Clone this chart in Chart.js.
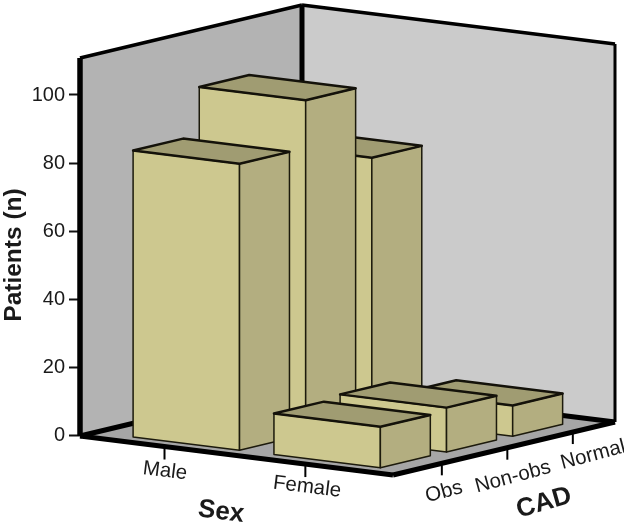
<!DOCTYPE html>
<html>
<head>
<meta charset="utf-8">
<style>
  html, body { margin: 0; padding: 0; background: #fff; }
  canvas { display: block; }
</style>
<script src="https://cdn.jsdelivr.net/npm/chart.js@4"></script>
</head>
<body>
<canvas id="chart" width="624" height="527"></canvas>
<script>
const sexLabels = ['Male', 'Female'];
const cadLabels = ['Obs', 'Non-obs', 'Normal'];
const obsValues = [84, 12];
const nonObsValues = [98, 13];
const normalValues = [76.5, 9];

// floor projection: how far one whole axis runs on screen
const sexAxis = { dx: 313, dy: 39 };
const cadAxis = { dx: 222, dy: -53 };
const sexStart = 0.12, sexStep = 0.45, boxWidth = 0.34;
const cadStart = 0.07, cadStep = 0.298, boxDepth = 0.225;
const FONT = '"Liberation Sans", Arial, sans-serif';

function floorPoint(chart, s, c) {
  const zero = chart.scales.y.getPixelForValue(0);
  return {
    x: chart.chartArea.left + s * sexAxis.dx + c * cadAxis.dx,
    y: zero + s * sexAxis.dy + c * cadAxis.dy,
  };
}

function poly(ctx, pts, fill, stroke, width) {
  ctx.beginPath();
  pts.forEach((p, i) => (i ? ctx.lineTo(p.x, p.y) : ctx.moveTo(p.x, p.y)));
  ctx.closePath();
  if (fill) { ctx.fillStyle = fill; ctx.fill(); }
  if (stroke) { ctx.strokeStyle = stroke; ctx.lineWidth = width; ctx.stroke(); }
}

function line(ctx, a, b, width) {
  ctx.beginPath();
  ctx.moveTo(a.x, a.y);
  ctx.lineTo(b.x, b.y);
  ctx.strokeStyle = '#000';
  ctx.lineWidth = width;
  ctx.stroke();
}

function up(p, h) { return { x: p.x, y: p.y - h }; }

function slantText(ctx, text, x, y, deg, font) {
  ctx.save();
  ctx.translate(x, y);
  ctx.rotate(deg * Math.PI / 180);
  ctx.font = font;
  ctx.fillStyle = '#1a1a1a';
  ctx.textAlign = 'center';
  ctx.textBaseline = 'middle';
  ctx.fillText(text, 0, 0);
  ctx.restore();
}

const box3d = {
  id: 'box3d',
  // walls and floor go under the y axis and the boxes
  beforeDatasetsDraw(chart) {
    const ctx = chart.ctx;
    const yScale = chart.scales.y;
    const wallH = yScale.getPixelForValue(0) - chart.chartArea.top;
    const left = floorPoint(chart, 0, 0);
    const front = floorPoint(chart, 1, 0);
    const right = floorPoint(chart, 1, 1);
    const back = floorPoint(chart, 0, 1);
    ctx.save();
    ctx.lineJoin = 'round';
    poly(ctx, [left, back, up(back, wallH), up(left, wallH)], '#b3b3b3');
    poly(ctx, [back, right, up(right, wallH), up(back, wallH)], '#cbcbcb');
    poly(ctx, [left, front, right, back], '#a6a6a6');
    line(ctx, left, back, 5);
    line(ctx, back, right, 5);
    line(ctx, left, up(left, wallH), 5.5);
    line(ctx, back, up(back, wallH), 5);
    line(ctx, right, up(right, wallH), 3);
    line(ctx, up(left, wallH), up(back, wallH), 3.5);
    line(ctx, up(back, wallH), up(right, wallH), 3.5);
    line(ctx, left, front, 5);
    line(ctx, front, right, 5);
    ctx.restore();
  },
  afterDatasetsDraw(chart) {
    const ctx = chart.ctx;
    const yScale = chart.scales.y;
    const zero = yScale.getPixelForValue(0);
    ctx.save();
    ctx.lineJoin = 'round';

    // far boxes first: Male row before Female, Normal before Obs
    sexLabels.forEach((_, i) => {
      for (let k = cadLabels.length - 1; k >= 0; k--) {
        const h = zero - yScale.getPixelForValue(chart.data.datasets[k].data[i]);
        const s = sexStart + i * sexStep;
        const c = cadStart + k * cadStep;
        const fl = floorPoint(chart, s, c);
        const fr = floorPoint(chart, s + boxWidth, c);
        const br = floorPoint(chart, s + boxWidth, c + boxDepth);
        const bl = floorPoint(chart, s, c + boxDepth);
        poly(ctx, [fl, fr, up(fr, h), up(fl, h)], '#cdc88f', '#1c1a0c', 1.5);
        poly(ctx, [fr, br, up(br, h), up(fr, h)], '#b3ae80', '#1c1a0c', 1.5);
        poly(ctx, [up(fl, h), up(fr, h), up(br, h), up(bl, h)], '#a09c72', '#14120a', 2.5);
      }
    });

    // slanted axes: ticks and labels sit on the floor edges
    const tickFont = '20.5px ' + FONT;
    const titleFont = 'bold 26px ' + FONT;
    const sexTickPos = [0.27, 0.72];
    const sexTextPos = [[165, 471], [307, 487]];
    sexLabels.forEach((label, i) => {
      const p = floorPoint(chart, sexTickPos[i], 0);
      line(ctx, up(p, -2), up(p, -13), 2);
      slantText(ctx, label, sexTextPos[i][0], sexTextPos[i][1], 7, tickFont);
    });
    const cadTickPos = [0.22, 0.515, 0.81];
    const cadTextPos = [[444, 492], [513, 477], [593, 455]];
    cadLabels.forEach((label, k) => {
      const p = floorPoint(chart, 1, cadTickPos[k]);
      line(ctx, up(p, -2), up(p, -12), 2);
      slantText(ctx, label, cadTextPos[k][0], cadTextPos[k][1], -15, tickFont);
    });
    slantText(ctx, 'Sex', 221, 512, 7, titleFont);
    slantText(ctx, 'CAD', 544, 503, -16, titleFont);
    ctx.restore();
  },
};

new Chart(document.getElementById('chart'), {
  type: 'bar',
  data: {
    labels: sexLabels,
    datasets: [
      { label: cadLabels[0], data: obsValues, backgroundColor: 'transparent' },
      { label: cadLabels[1], data: nonObsValues, backgroundColor: 'transparent' },
      { label: cadLabels[2], data: normalValues, backgroundColor: 'transparent' },
    ],
  },
  plugins: [box3d],
  options: {
    responsive: false,
    animation: false,
    layout: { padding: { top: 58, bottom: 75, left: 0, right: 0 } },
    plugins: { legend: { display: false }, tooltip: { enabled: false } },
    scales: {
      x: { display: false },
      y: {
        min: -4.7,
        max: 110.85,
        afterFit: scale => { scale.width = 80; },
        border: { display: false },
        grid: { drawOnChartArea: false, tickLength: 11, tickColor: '#111', tickWidth: 2 },
        ticks: {
          stepSize: 20,
          includeBounds: false,
          maxRotation: 0,
          padding: 4,
          color: '#1a1a1a',
          font: { family: FONT, size: 20 },
        },
        title: {
          display: true,
          text: 'Patients (n)',
          color: '#1a1a1a',
          padding: 0,
          font: { family: FONT, size: 24.5, weight: 'bold' },
        },
      },
    },
  },
});
</script>
</body>
</html>
